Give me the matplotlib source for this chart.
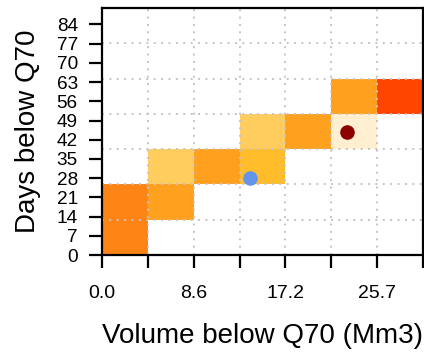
import numpy as np
import matplotlib.pyplot as plt
from matplotlib.colors import ListedColormap, BoundaryNorm

plt.rcParams['font.family'] = ['Liberation Sans', 'DejaVu Sans']

# axis extents and bins
x_max = 30.0
y_max = 90.0
n_bins = 7

# frequency class of each (volume, duration) cell; rows = duration bins from bottom
freq_class = [
    [5, 0, 0, 0, 0, 0, 0],
    [5, 4, 0, 0, 0, 0, 0],
    [0, 2, 4, 3, 0, 0, 0],
    [0, 0, 0, 2, 4, 1, 0],
    [0, 0, 0, 0, 0, 4, 6],
    [0, 0, 0, 0, 0, 0, 0],
    [0, 0, 0, 0, 0, 0, 0],
]
class_colors = ['#FFEFD0', '#FFCD5E', '#FFBC2B', '#FFA11E', '#FF8416', '#FF4500']

# highlighted events: (volume, days)
event_blue = (13.8, 28.2)
event_red = (22.9, 44.7)

y_ticks = [0, 7, 14, 21, 28, 35, 42, 49, 56, 63, 70, 77, 84]
x_tick_labels = ['0.0', '', '8.6', '', '17.2', '', '25.7', '']

fig = plt.figure(figsize=(4.24, 3.52), dpi=100)
ax = fig.add_axes([102 / 424, 1 - 255 / 352, 321 / 424, 247 / 352])

x_edges = np.linspace(0, x_max, n_bins + 1)
y_edges = np.linspace(0, y_max, n_bins + 1)
grid = np.ma.masked_equal(np.array(freq_class), 0)
cmap = ListedColormap(class_colors)
norm = BoundaryNorm(np.arange(0.5, len(class_colors) + 1.5), cmap.N)
ax.pcolormesh(x_edges, y_edges, grid, cmap=cmap, norm=norm, zorder=1)

# dotted grid on top of the cells
for xv in x_edges[1:-1]:
    ax.axvline(xv, color='#C4C4C4', lw=1.4, ls=(0, (1, 2.8)), zorder=2)
for yv in y_edges[1:-1]:
    ax.axhline(yv, color='#C4C4C4', lw=1.4, ls=(0, (1, 2.8)), zorder=2)

ax.plot(*event_blue, 'o', color='#6495ED', ms=10.5, mec='none', zorder=3)
ax.plot(*event_red, 'o', color='#8B0000', ms=10.5, mec='none', zorder=3)

ax.set_xlim(0, x_max)
ax.set_ylim(0, y_max)
ax.set_xticks(x_edges)
ax.set_xticklabels(x_tick_labels)
ax.set_yticks(y_ticks)
ax.set_yticklabels([str(v) for v in y_ticks])

for side in ['left', 'right', 'top', 'bottom']:
    ax.spines[side].set_linewidth(1.6)
ax.tick_params(axis='both', direction='out', width=1.6, length=9.4, labelsize=13.7)
ax.tick_params(axis='x', pad=12, labelsize=14)
ax.tick_params(axis='y', pad=8)

ax.set_xlabel('Volume below Q70 (Mm3)', fontsize=20, labelpad=15)
ax.set_ylabel('Days below Q70', fontsize=20, labelpad=11)

fig.savefig('out.png', dpi=100)
